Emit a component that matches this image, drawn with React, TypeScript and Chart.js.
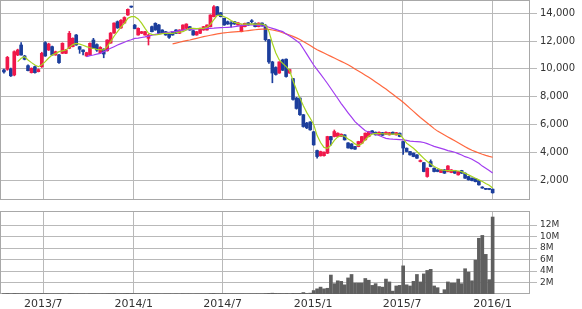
import React, { useEffect, useRef } from "react";
import { Chart, registerables } from "chart.js";
Chart.register(...registerables);

const weeks = [
  "2013-04-12","2013-04-19","2013-04-26","2013-05-03","2013-05-10","2013-05-17","2013-05-24","2013-05-31","2013-06-07","2013-06-14",
  "2013-06-21","2013-06-28","2013-07-05","2013-07-12","2013-07-19","2013-07-26","2013-08-02","2013-08-09","2013-08-16","2013-08-23",
  "2013-08-30","2013-09-06","2013-09-13","2013-09-20","2013-09-27","2013-10-04","2013-10-11","2013-10-18","2013-10-25","2013-11-01",
  "2013-11-08","2013-11-15","2013-11-22","2013-11-29","2013-12-06","2013-12-13","2013-12-20","2013-12-27",
  "2014-01-03","2014-01-10","2014-01-17","2014-01-24","2014-01-31","2014-02-07","2014-02-14","2014-02-21","2014-02-28","2014-03-07",
  "2014-03-14","2014-03-21","2014-03-28","2014-04-04","2014-04-11","2014-04-18","2014-04-25","2014-05-02","2014-05-09","2014-05-16",
  "2014-05-23","2014-05-30","2014-06-06","2014-06-13","2014-06-20","2014-06-27","2014-07-04","2014-07-11","2014-07-18","2014-07-25",
  "2014-08-01","2014-08-08","2014-08-15","2014-08-22","2014-08-29","2014-09-05","2014-09-12","2014-09-19","2014-09-26","2014-10-03",
  "2014-10-10","2014-10-17","2014-10-24","2014-10-31","2014-11-07","2014-11-14","2014-11-21","2014-11-28","2014-12-05","2014-12-12",
  "2014-12-19","2014-12-26",
  "2015-01-02","2015-01-09","2015-01-16","2015-01-23","2015-01-30","2015-02-06","2015-02-13","2015-02-20","2015-02-27","2015-03-06",
  "2015-03-13","2015-03-20","2015-03-27","2015-04-03","2015-04-10","2015-04-17","2015-04-24","2015-05-01","2015-05-08","2015-05-15",
  "2015-05-22","2015-05-29","2015-06-05","2015-06-12","2015-06-19","2015-06-26","2015-07-03","2015-07-10","2015-07-17","2015-07-24",
  "2015-07-31","2015-08-07","2015-08-14","2015-08-21","2015-08-28","2015-09-04","2015-09-11","2015-09-18","2015-09-25","2015-10-02",
  "2015-10-09","2015-10-16","2015-10-23","2015-10-30","2015-11-06","2015-11-13","2015-11-20","2015-11-27","2015-12-04","2015-12-11",
  "2015-12-18","2015-12-25",
  "2016-01-01",
];

const open = [
  9920, 9970, 10000, 9560, 11000, 11720, 10930, 10230, 9730, 10160,
  9800, 10160, 11890, 11360, 11600, 11000, 11000, 11120, 11120, 11480,
  11600, 12440, 11600, 11360, 10930, 11000, 12080, 11750, 11150, 11420,
  11300, 11860, 12580, 13400, 12950, 13300, 13880, 14470, 13150, 12440,
  12560, 12440, 12200, 13040, 13280, 13160, 12800, 12680, 12560, 12680,
  12800, 12560, 12800, 12920, 13040, 12750, 12440, 12560, 12800, 12800,
  13040, 13760, 14470, 14040, 13640, 13400, 13250, 13400, 13160, 12680,
  13040, 13320, 13470, 13280, 13040, 13300, 13100, 12100, 10500, 10100,
  9700, 10650, 10700, 9700, 9300, 7900, 7900, 6700, 6100, 6180,
  5470, 4120, 3740, 3750, 3930, 5130, 5130, 5130, 5150, 5250,
  4670, 4600, 4410, 4410, 4650, 4890, 5130, 5540, 5440, 5250,
  5410, 5300, 5250, 5440, 5250, 5370, 4770, 4290, 4050, 3930,
  3810, 3330, 3250, 2250, 3330, 2850, 2730, 2540, 2730, 2610,
  2540, 2680, 2370, 2680, 2490, 2250, 2130, 2100, 1950, 1480,
  1380, 1360, 1340,
];

const high = [
  9980, 10900, 10060, 11300, 11420, 11900, 10980, 10300, 10080, 10200,
  10000, 11200, 11960, 11850, 11650, 11280, 11050, 11880, 11400, 12700,
  12240, 12480, 11620, 11380, 11200, 11880, 12200, 11800, 11600, 11450,
  12100, 12620, 13320, 13450, 13550, 13750, 14320, 14520, 13200, 12950,
  12700, 12700, 12480, 13080, 13320, 13200, 12820, 12700, 12580, 12700,
  12830, 12820, 13180, 13250, 13060, 12770, 12700, 12940, 13060, 13180,
  13900, 14550, 14500, 14060, 13660, 13450, 13400, 13420, 13340, 13180,
  13300, 13340, 13550, 13320, 13320, 13320, 13200, 12120, 10550, 10150,
  10520, 10700, 10720, 9980, 9320, 7950, 7920, 6720, 6150, 6200,
  5500, 4150, 4080, 4020, 5150, 5150, 5600, 5400, 5320, 5270,
  4690, 4620, 4430, 4790, 5150, 5390, 5510, 5560, 5460, 5460,
  5430, 5460, 5430, 5460, 5430, 5390, 4790, 4310, 4070, 3950,
  3830, 3450, 3270, 2870, 3450, 2870, 2750, 2750, 2750, 3030,
  2750, 2700, 2630, 2700, 2510, 2270, 2150, 2120, 1970, 1520,
  1400, 1380, 1360,
];

const low = [
  9700, 9900, 9450, 9500, 10950, 10980, 10650, 9850, 9700, 9700,
  9780, 10100, 10900, 11320, 10980, 10980, 10400, 11100, 11100, 11450,
  11580, 11700, 11120, 11000, 10900, 10980, 11460, 11250, 11100, 10800,
  11280, 11840, 12560, 12920, 12920, 13280, 13850, 14420, 12880, 12420,
  12540, 12420, 11720, 12660, 12780, 12540, 12540, 12420, 12200, 12420,
  12540, 12540, 12780, 12900, 12780, 12420, 12420, 12540, 12780, 12780,
  13020, 13740, 13860, 13740, 13140, 13200, 13000, 13200, 13140, 12660,
  13020, 13140, 13300, 13020, 13020, 13080, 12000, 10400, 9000, 9550,
  9680, 9880, 9400, 9680, 7750, 7100, 6650, 5800, 5700, 5580,
  4500, 3570, 3720, 3720, 3900, 4500, 5100, 5100, 5130, 4870,
  4290, 4230, 4200, 4390, 4630, 4870, 5110, 5340, 5230, 5230,
  5200, 5280, 5230, 5280, 5230, 5110, 3850, 4030, 3790, 3670,
  3550, 3300, 2590, 2200, 2950, 2590, 2590, 2520, 2470, 2590,
  2520, 2470, 2350, 2470, 2110, 1990, 1940, 1860, 1620, 1400,
  1310, 1300, 1050,
];

const close = [
  9780, 10830, 9500, 11240, 11360, 11000, 10690, 9870, 10040, 9730,
  9950, 11120, 10930, 11790, 11000, 11240, 10450, 11840, 11360, 12560,
  12200, 11720, 11410, 11240, 11170, 11840, 11480, 11350, 11550, 11070,
  12080, 12580, 13300, 12950, 13500, 13700, 14290, 14450, 12900, 12920,
  12680, 12680, 12440, 12680, 12800, 12560, 12560, 12440, 12270, 12440,
  12560, 12800, 13160, 13230, 12800, 12440, 12680, 12920, 13040, 13160,
  13880, 14470, 13880, 13760, 13160, 13230, 13230, 13230, 13320, 13160,
  13280, 13160, 13400, 13040, 13300, 13100, 12100, 10500, 9700, 9600,
  10500, 9900, 9450, 9950, 7800, 7150, 6700, 5850, 5750, 5610,
  4530, 3690, 4050, 4000, 5130, 4890, 5490, 5370, 5300, 4890,
  4310, 4250, 4220, 4770, 5130, 5370, 5490, 5360, 5250, 5440,
  5220, 5440, 5410, 5300, 5410, 5130, 4300, 4050, 3810, 3690,
  3570, 3380, 2610, 2850, 2970, 2610, 2610, 2730, 2490, 3010,
  2730, 2490, 2610, 2490, 2130, 2010, 1960, 1880, 1650, 1420,
  1330, 1320, 1080,
];

// weekly volume, in millions of shares
const volumeM = [
  0.06, 0.08, 0.05, 0.09, 0.07, 0.06, 0.05, 0.07, 0.06, 0.05,
  0.06, 0.08, 0.07, 0.06, 0.05, 0.05, 0.06, 0.07, 0.05, 0.08,
  0.07, 0.06, 0.05, 0.05, 0.04, 0.06, 0.06, 0.05, 0.05, 0.06,
  0.07, 0.08, 0.09, 0.07, 0.08, 0.09, 0.1, 0.08, 0.07, 0.06,
  0.05, 0.05, 0.06, 0.05, 0.06, 0.05, 0.04, 0.05, 0.05, 0.04,
  0.05, 0.04, 0.06, 0.05, 0.05, 0.04, 0.05, 0.05, 0.05, 0.05,
  0.08, 0.1, 0.07, 0.06, 0.06, 0.05, 0.05, 0.05, 0.05, 0.06,
  0.05, 0.05, 0.05, 0.05, 0.05, 0.05, 0.08, 0.12, 0.14, 0.1,
  0.09, 0.08, 0.09, 0.07, 0.12, 0.1, 0.11, 0.25, 0.1, 0.15,
  0.6, 0.9, 1.2, 0.9, 1.0, 3.3, 1.8, 2.3, 2.2, 1.6,
  2.8, 3.4, 1.9, 1.9, 1.9, 2.7, 2.4, 1.5, 1.8, 1.3,
  1.2, 2.6, 2.1, 0.5, 1.4, 1.5, 4.9, 1.6, 1.4, 2.2,
  3.4, 2.1, 3.5, 4.1, 4.3, 1.4, 1.1, 0.1, 0.75, 2.1,
  1.9, 1.9, 2.6, 1.8, 4.4, 3.8, 2.3, 5.9, 9.7, 10.2,
  6.9, 2.5, 13.4,
];

// moving averages, first value belongs to week index given by *From
const maShortFrom = 4;
const maShort = [
  10520, 10760, 10880, 10640, 10450, 10280, 10160, 10300, 10520, 10780,
  11000, 11100, 11240, 11300, 11360, 11550, 11750, 11840, 11780, 11700,
  11600, 11520, 11470, 11410, 11380, 11360, 11600, 11960, 12350, 12680,
  13000, 13280, 13640, 13760, 13760, 13600, 13300, 12920, 12560, 12480,
  12440, 12480, 12540, 12560, 12560, 12560, 12600, 12650, 12680, 12800,
  12920, 12920, 12900, 12920, 12920, 13000, 13200, 13550, 13850, 13880,
  13760, 13640, 13480, 13350, 13280, 13240, 13220, 13230, 13240, 13230,
  13230, 13230, 13150, 12700, 11850, 11150, 10640, 10400, 10160, 9900,
  9150, 8500, 7900, 7350, 6850, 6450, 6000, 5200, 4700, 4350,
  4280, 4500, 4850, 5100, 5200, 5150, 4950, 4800, 4600, 4480,
  4600, 4900, 5150, 5300, 5350, 5340, 5330, 5320, 5310, 5300,
  5300, 5290, 5000, 4650, 4470, 4290, 4050, 3800, 3560, 3330,
  3150, 2970, 2850, 2730, 2700, 2680, 2680, 2680, 2650, 2600,
  2480, 2370, 2250, 2130, 2010, 1890, 1750, 1620, 1420,
];

const maMidFrom = 24;
const maMid = [
  10880, 10950, 11000, 11060, 11120, 11240, 11360, 11480, 11600, 11720,
  11820, 11920, 12030, 12100, 12200, 12220, 12260, 12300, 12360, 12420,
  12480, 12520, 12560, 12600, 12640, 12680, 12700, 12750, 12800, 12820,
  12840, 12860, 12880, 12890, 12900, 12910, 12920, 12930, 12950, 12970,
  12980, 12990, 13000, 13040, 13080, 13120, 13150, 13160, 13170, 13160,
  13130, 13100, 13080, 13000, 12920, 12840, 12760, 12680, 12520, 12360,
  12200, 12020, 11840, 11450, 11060, 10670, 10280, 9950, 9620, 9290,
  8950, 8590, 8230, 7870, 7500, 7170, 6840, 6520, 6200, 5980,
  5760, 5550, 5460, 5380, 5300, 5200, 5100, 5000, 4960, 4940,
  4930, 4910, 4890, 4850, 4800, 4780, 4770, 4750, 4700, 4620,
  4520, 4420, 4350, 4280, 4200, 4120, 4060, 4000, 3900, 3800,
  3680, 3600, 3500, 3350, 3200, 3000, 2850, 2680, 2500,
];

const maLongFrom = 49;
const maLong = [
  11800, 11860, 11920, 11980, 12030, 12080, 12140, 12200, 12260, 12320,
  12370, 12420, 12470, 12520, 12560, 12600, 12620, 12640, 12660, 12680,
  12700, 12730, 12760, 12790, 12820, 12850, 12860, 12860, 12850, 12800,
  12750, 12690, 12600, 12520, 12440, 12340, 12230, 12120, 11970, 11830,
  11680, 11530, 11380, 11260, 11140, 11020, 10900, 10780, 10660, 10540,
  10420, 10300, 10150, 10000, 9850, 9700, 9550, 9400, 9230, 9060,
  8890, 8720, 8550, 8360, 8170, 7980, 7790, 7600, 7380, 7160,
  6940, 6720, 6500, 6300, 6100, 5900, 5700, 5520, 5380, 5240,
  5100, 4960, 4820, 4680, 4540, 4400, 4260, 4140, 4040, 3940,
  3850, 3770, 3700, 3640,
];

const priceTicks = [2000, 4000, 6000, 8000, 10000, 12000, 14000];
const volumeTicks = [2, 4, 6, 8, 10, 12];
const monthTicks = ["2013/7", "2014/1", "2014/7", "2015/1", "2015/7", "2016/1"];

const BASE = Date.UTC(2013, 3, 12);
const dayOf = (s: string) => {
  const p = s.split(/[-\/]/).map(Number);
  return (Date.UTC(p[0], p[1] - 1, p[2] || 1) - BASE) / 864e5;
};
const xs = weeks.map(dayOf);
const monthXs = monthTicks.map(dayOf);
const X_MIN = -8;
const X_MAX = 1070;

const UP = "#f0184a";
const DOWN = "#1c3e9c";
const GRID = "#b9b9b9";
const FRAME = "#a8a8a8";
const TEXT = "#333333";
const FONT = "DejaVu Sans";

const frame = {
  id: "frame",
  beforeDatasetsDraw(chart: any) {
    const { ctx, chartArea } = chart;
    ctx.save();
    ctx.strokeStyle = FRAME;
    ctx.lineWidth = 1;
    ctx.strokeRect(
      Math.round(chartArea.left) + 0.5,
      Math.round(chartArea.top) + 0.5,
      Math.round(chartArea.right - chartArea.left) - 1,
      Math.round(chartArea.bottom - chartArea.top) - 1
    );
    ctx.restore();
  },
};

const noPad = (s: any) => {
  s.paddingTop = 0;
  s.paddingBottom = 0;
  s.paddingLeft = 0;
  s.paddingRight = 0;
};

const maLine = (vals: number[], from: number, color: string) => ({
  type: "line" as const,
  data: vals.map((v, k) => ({ x: xs[from + k], y: v })),
  borderColor: color,
  borderWidth: 1.2,
  pointRadius: 0,
  tension: 0,
  order: 0,
});

const xScale = (showLabels: boolean) => ({
  type: "linear" as const,
  min: X_MIN,
  max: X_MAX,
  offset: false,
  grid: { offset: false, color: GRID, lineWidth: 1, drawTicks: false },
  border: { display: false },
  ticks: {
    display: showLabels,
    autoSkip: false,
    maxRotation: 0,
    padding: 4,
    color: TEXT,
    font: { family: FONT, size: 11 },
    callback: (v: any) => {
      const k = monthXs.indexOf(Number(v));
      return k >= 0 ? monthTicks[k] : "";
    },
  },
  afterBuildTicks: (s: any) => {
    s.ticks = monthXs.map((v) => ({ value: v }));
  },
  afterFit: (s: any) => {
    noPad(s);
    s.height = showLabels ? 15 : 3;
  },
});

const yScale = (min: number, max: number, ticks: number[], size: number, fmt: (v: number) => string) => ({
  type: "linear" as const,
  position: "right" as const,
  min,
  max,
  grid: { color: GRID, lineWidth: 1, drawTicks: true, tickLength: 7 },
  border: { display: false },
  ticks: {
    autoSkip: false,
    padding: 3,
    color: TEXT,
    font: { family: FONT, size },
    callback: (v: any) => fmt(Number(v)),
  },
  afterBuildTicks: (s: any) => {
    s.ticks = ticks.map((v) => ({ value: v }));
  },
  afterFit: (s: any) => {
    noPad(s);
    s.width = 52;
  },
});

export default function App() {
  const priceRef = useRef<HTMLCanvasElement>(null);
  const volRef = useRef<HTMLCanvasElement>(null);

  useEffect(() => {
    const colors = close.map((c, i) => (c >= open[i] ? UP : DOWN));

    const price = new Chart(priceRef.current!, {
      type: "bar",
      data: {
        datasets: [
          maLine(maShort, maShortFrom, "#a6d31e") as any,
          maLine(maMid, maMidFrom, "#a23df0") as any,
          maLine(maLong, maLongFrom, "rgba(255,88,42,0.9)") as any,
          {
            type: "bar",
            data: xs.map((x, i) => ({ x, y: [low[i], high[i]] })),
            backgroundColor: colors,
            barThickness: 1,
            grouped: false,
            order: 2,
          },
          {
            type: "bar",
            data: xs.map((x, i) => ({ x, y: [open[i], close[i]] })),
            backgroundColor: colors,
            barThickness: 3,
            minBarLength: 1,
            grouped: false,
            order: 1,
          },
        ],
      },
      options: {
        animation: false,
        responsive: false,
        maintainAspectRatio: false,
        layout: { padding: 0 },
        plugins: { legend: { display: false }, tooltip: { enabled: false } },
        scales: {
          x: xScale(false) as any,
          y: yScale(560, 14960, priceTicks, 10, (v) => v.toLocaleString("en-US")) as any,
        },
      } as any,
      plugins: [frame],
    });

    const vol = new Chart(volRef.current!, {
      type: "bar",
      data: {
        datasets: [
          {
            data: xs.map((x, i) => ({ x, y: volumeM[i] })),
            backgroundColor: "#5f5f5f",
            barThickness: 3,
            grouped: false,
          },
        ],
      },
      options: {
        animation: false,
        responsive: false,
        maintainAspectRatio: false,
        layout: { padding: { top: 8, left: 0, right: 0, bottom: 0 } },
        plugins: { legend: { display: false }, tooltip: { enabled: false } },
        scales: {
          x: xScale(true) as any,
          y: yScale(0, 14.45, volumeTicks, 9, (v) => `${v}M`) as any,
        },
      } as any,
      plugins: [frame],
    });

    return () => {
      price.destroy();
      vol.destroy();
    };
  }, []);

  return (
    <div style={{ position: "absolute", left: 0, top: 0, width: 582, height: 309, background: "#fff" }}>
      <canvas ref={priceRef} width={582} height={203} style={{ display: "block", position: "absolute", left: 0, top: 0 }} />
      <canvas ref={volRef} width={582} height={106} style={{ display: "block", position: "absolute", left: 0, top: 203 }} />
    </div>
  );
}
